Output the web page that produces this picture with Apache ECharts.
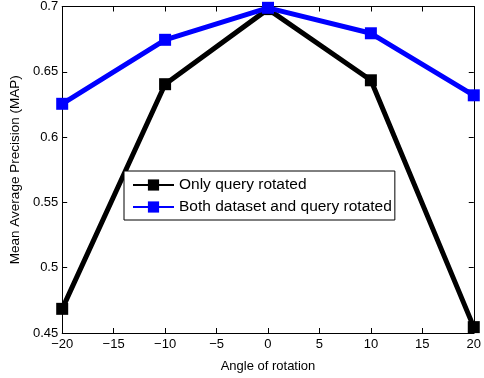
<!DOCTYPE html>
<html>
<head>
<meta charset="utf-8">
<script src="https://cdn.jsdelivr.net/npm/echarts@6/dist/echarts.min.js"></script>
<style>
  html, body { margin: 0; padding: 0; background: #fff; }
  #chart { width: 484px; height: 378px; }
</style>
</head>
<body>
<div id="chart"></div>
<script>
  // angle of rotation (degrees)
  var angles = [-20, -10, 0, 10, 20];
  var onlyQuery = [0.4685, 0.6405, 0.698, 0.6435, 0.4545];
  var bothRotated = [0.6255, 0.6745, 0.699, 0.6795, 0.632];
  var seriesNames = ['Only query rotated', 'Both dataset and query rotated'];

  var font = 'Liberation Sans, Arial, Helvetica, sans-serif';

  function pairs (ys) {
    return angles.map(function (a, i) { return [a, ys[i]]; });
  }

  function minusFmt (v) {
    return String(v).replace('-', '\u2212');
  }

  var chart = echarts.init(document.getElementById('chart'));
  chart.setOption({
    animation: false,
    backgroundColor: '#fff',
    textStyle: { fontFamily: font },
    grid: { left: 47, right: 8, top: 5, bottom: 37, containLabel: false },
    legend: {
      orient: 'vertical',
      left: 124,
      top: 171,
      padding: [6, 3, 5, 8],
      itemGap: 6,
      itemWidth: 41,
      itemHeight: 14,
      backgroundColor: '#fff',
      borderColor: '#000',
      borderWidth: 1,
      borderRadius: 0,
      textStyle: { fontSize: 15.5, color: '#000', fontFamily: font },
      data: seriesNames
    },
    xAxis: [{
      type: 'value',
      min: -20,
      max: 20,
      interval: 5,
      name: 'Angle of rotation',
      nameLocation: 'middle',
      nameGap: 27,
      nameTextStyle: { fontSize: 13, color: '#000' },
      axisLine: { onZero: false, lineStyle: { color: '#000', width: 1 } },
      axisTick: { inside: true, length: 5, lineStyle: { color: '#000' } },
      axisLabel: { fontSize: 13, color: '#000', margin: 5, formatter: minusFmt },
      splitLine: { show: false }
    }, {
      type: 'value',
      position: 'top',
      min: -20,
      max: 20,
      interval: 5,
      axisLine: { onZero: false, lineStyle: { color: '#000', width: 1 } },
      axisTick: { inside: true, length: 5, lineStyle: { color: '#000' } },
      axisLabel: { show: false },
      splitLine: { show: false }
    }],
    yAxis: [{
      type: 'value',
      min: 0.45,
      max: 0.7,
      interval: 0.05,
      name: 'Mean Average Precision (MAP)',
      nameLocation: 'middle',
      nameGap: 34,
      nameTextStyle: { fontSize: 13.5, color: '#000' },
      axisLine: { show: true, onZero: false, lineStyle: { color: '#000', width: 1 } },
      axisTick: { show: true, inside: true, length: 5, lineStyle: { color: '#000' } },
      axisLabel: { fontSize: 13, color: '#000', margin: 4, formatter: function (v) { return String(+v.toFixed(2)); } },
      splitLine: { show: false }
    }, {
      type: 'value',
      position: 'right',
      min: 0.45,
      max: 0.7,
      interval: 0.05,
      axisLine: { show: true, onZero: false, lineStyle: { color: '#000', width: 1 } },
      axisTick: { show: true, inside: true, length: 5, lineStyle: { color: '#000' } },
      axisLabel: { show: false },
      splitLine: { show: false }
    }],
    series: [{
      name: seriesNames[0],
      type: 'line',
      data: pairs(onlyQuery),
      color: '#000',
      lineStyle: { width: 5, color: '#000' },
      symbol: 'rect',
      symbolSize: 12,
      itemStyle: { color: '#000' },
      z: 2
    }, {
      name: seriesNames[1],
      type: 'line',
      data: pairs(bothRotated),
      color: '#0000ff',
      lineStyle: { width: 5, color: '#0000ff' },
      symbol: 'rect',
      symbolSize: 12,
      itemStyle: { color: '#0000ff' },
      z: 3
    }]
  });
</script>
</body>
</html>
